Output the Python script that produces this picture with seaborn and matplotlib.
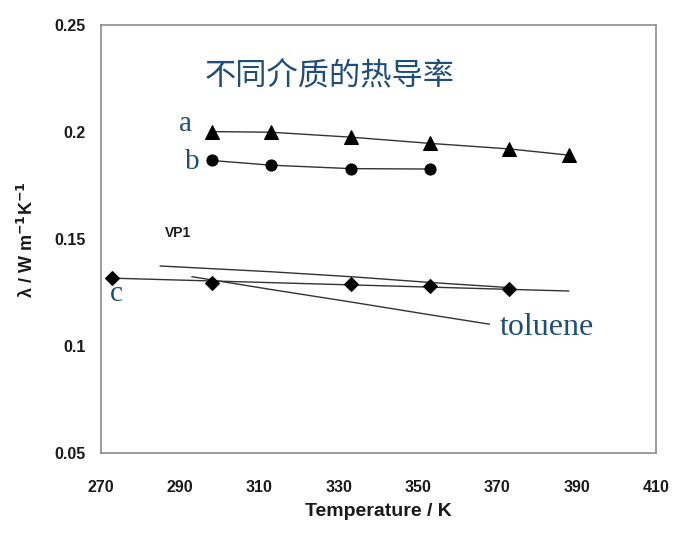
import matplotlib
matplotlib.use('Agg')
import matplotlib.pyplot as plt
import seaborn as sns

# data
T_a = [298, 313, 333, 353, 373, 388]
k_a = [0.2003, 0.2000, 0.1977, 0.1948, 0.1922, 0.1893]

T_b = [298, 313, 333, 353]
k_b = [0.1868, 0.1846, 0.1830, 0.1828]

T_c = [273, 298, 333, 353, 373]
k_c = [0.1318, 0.1297, 0.1290, 0.1282, 0.1268]
T_c_line = [273, 388]
k_c_line = [0.1318, 0.1258]

T_vp1 = [285, 313, 333, 353, 373]
k_vp1 = [0.1375, 0.1348, 0.1325, 0.1298, 0.1274]

T_tol = [293, 313, 333, 353, 368]
k_tol = [0.1325, 0.1265, 0.1207, 0.1147, 0.1103]

x_ticks = [270, 290, 310, 330, 350, 370, 390, 410]
y_ticks = [0.05, 0.1, 0.15, 0.2, 0.25]
y_ticklabels = ['0.05', '0.1', '0.15', '0.2', '0.25']

sns.set_style('white')
plt.rcParams['font.family'] = ['Liberation Sans', 'DejaVu Sans']

fig = plt.figure(figsize=(6.75, 5.37), dpi=100)
ax = fig.add_axes([0.149, 0.156, 0.823, 0.797])

line_kw = dict(color='#333333', linewidth=1.0, ax=ax, legend=False)
sns.lineplot(x=T_vp1, y=k_vp1, **line_kw)
sns.lineplot(x=T_tol, y=k_tol, **line_kw)
sns.lineplot(x=T_c_line, y=k_c_line, **line_kw)
sns.lineplot(x=T_a, y=k_a, marker='^', markersize=10, markeredgecolor='black',
             markerfacecolor='black', **line_kw)
sns.lineplot(x=T_b, y=k_b, marker='o', markersize=8, markeredgecolor='black',
             markerfacecolor='black', **line_kw)
sns.lineplot(x=T_c, y=k_c, marker='D', markersize=7.5, markeredgecolor='black',
             markerfacecolor='black', linewidth=0, color='black', ax=ax, legend=False)

ax.set_xlim(270, 410)
ax.set_ylim(0.05, 0.25)
ax.set_xticks(x_ticks)
ax.set_yticks(y_ticks)
ax.set_yticklabels(y_ticklabels)
for s in ax.spines.values():
    s.set_color('#8c8c8c')
    s.set_linewidth(1.2)
ax.tick_params(axis='both', direction='out', length=5, width=1, color='#8c8c8c',
               labelsize=11.5, pad=6)
ax.tick_params(axis='x', pad=14)
for lab in ax.get_xticklabels() + ax.get_yticklabels():
    lab.set_fontweight('bold')
    lab.set_color('#1a1a1a')

ax.set_xlabel('Temperature / K', fontsize=14, fontweight='bold', color='#1a1a1a', labelpad=6)
ax.set_ylabel(r'λ / W m$^{\mathbf{-1}}$K$^{\mathbf{-1}}$', fontsize=13, fontweight='bold',
              color='#1a1a1a', labelpad=12)

blue = '#1f4e79'
ax.text(327.8, 0.2265, '不同介质的热导率', fontsize=22.5, color=blue, ha='center', va='center',
        family=['Noto Sans CJK SC', 'DejaVu Sans'])
serif = ['Liberation Serif', 'DejaVu Serif']
ax.text(291.3, 0.2037, 'a', fontsize=21, color=blue, family=serif, ha='center', va='center')
ax.text(293.0, 0.1860, 'b', fontsize=21, color=blue, family=serif, ha='center', va='center')
ax.text(274, 0.1245, 'c', fontsize=21, color=blue, family=serif, ha='center', va='center')
ax.text(370.6, 0.1088, 'toluene', fontsize=23, color=blue, family=serif, ha='left', va='center')
ax.text(289.5, 0.1530, 'VP1', fontsize=10, color='#1a1a1a', fontweight='bold', ha='center', va='center')

fig.savefig('out.png', dpi=100)
